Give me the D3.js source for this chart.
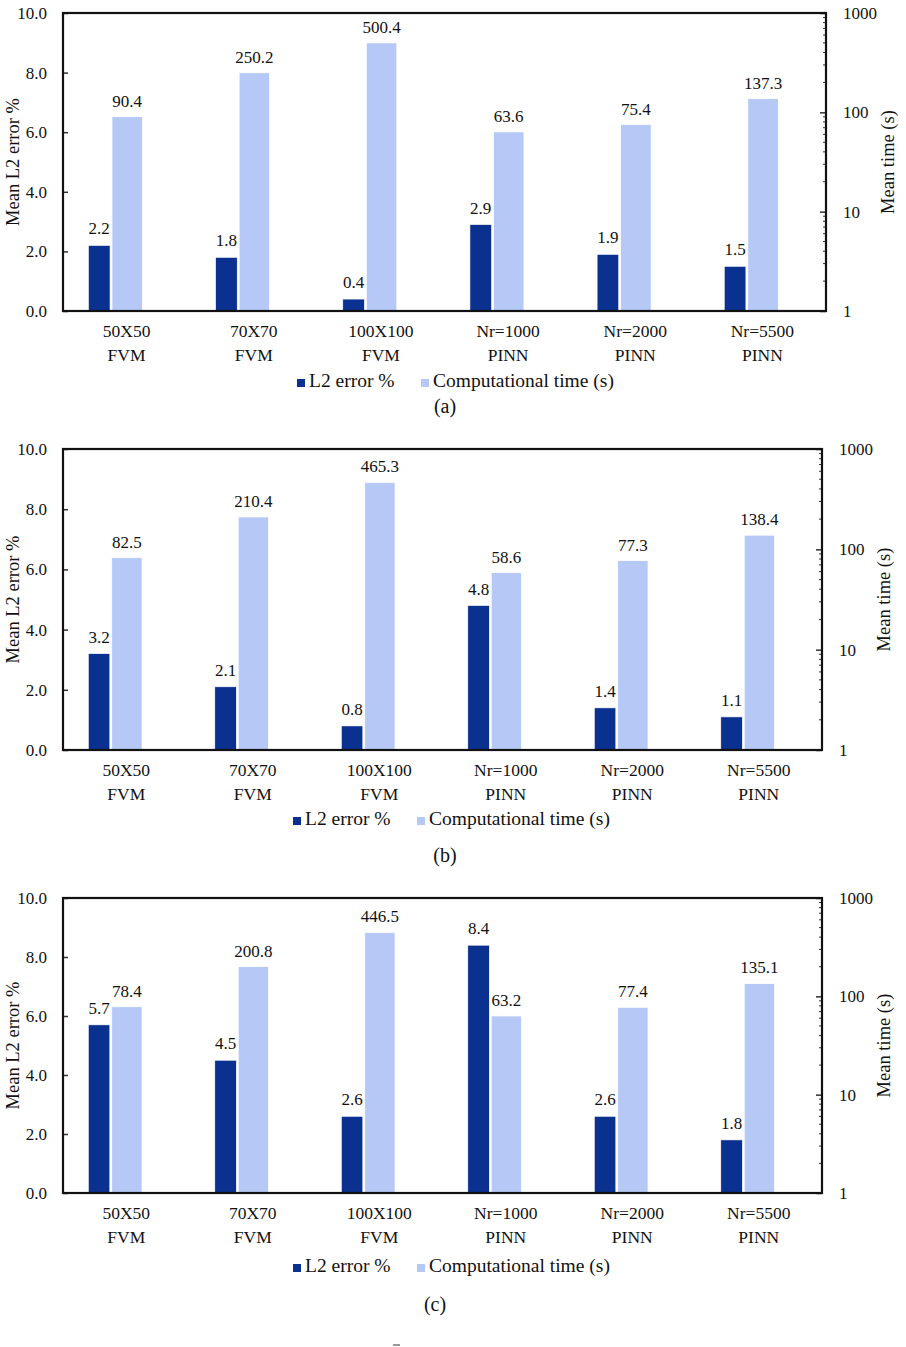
<!DOCTYPE html>
<html>
<head>
<meta charset="utf-8">
<script src="https://cdn.jsdelivr.net/npm/d3@7"></script>
<style>
  body { margin: 0; background: #fff; }
  svg text { font-family: "Liberation Serif", "DejaVu Serif", serif; fill: #111; }
</style>
</head>
<body>
<div id="chart"></div>
<script>
// categories shared by all three panels
const categories = ["50X50", "70X70", "100X100", "Nr=1000", "Nr=2000", "Nr=5500"];
const methods = ["FVM", "FVM", "FVM", "PINN", "PINN", "PINN"];

// panel (a)
const errorA = [2.2, 1.8, 0.4, 2.9, 1.9, 1.5];
const timeA = [90.4, 250.2, 500.4, 63.6, 75.4, 137.3];
// panel (b)
const errorB = [3.2, 2.1, 0.8, 4.8, 1.4, 1.1];
const timeB = [82.5, 210.4, 465.3, 58.6, 77.3, 138.4];
// panel (c)
const errorC = [5.7, 4.5, 2.6, 8.4, 2.6, 1.8];
const timeC = [78.4, 200.8, 446.5, 63.2, 77.4, 135.1];

const errorTicks = [0, 2, 4, 6, 8, 10];
const timeTicks = [1, 10, 100, 1000];
const legendLabels = ["L2 error %", "Computational time (s)"];

const darkBlue = "#0b3190";
const lightBlue = "#b5c8f6";

const svg = d3.select("#chart").append("svg")
    .attr("width", 906)
    .attr("height", 1347);

function drawPanel(p) {
    const g = svg.append("g");

    const x = d3.scaleBand().domain(categories).range([p.left, p.right]);
    const yErr = d3.scaleLinear().domain([0, 10]).range([p.bottom, p.top]);
    const yTime = d3.scaleLog().domain([1, 1000]).range([p.bottom, p.top]);
    const bw = x.bandwidth();
    const cx = d => x(d) + bw / 2;

    // light bars (time, log axis)
    g.selectAll(".time").data(p.time).enter().append("rect")
        .attr("x", (d, i) => cx(categories[i]) - 0.115 * bw)
        .attr("width", 0.24 * bw)
        .attr("y", d => yTime(d))
        .attr("height", d => p.bottom - yTime(d))
        .attr("fill", lightBlue)
        .attr("stroke", "#fff")
        .attr("stroke-width", 0.8);

    // dark bars (error)
    g.selectAll(".err").data(p.error).enter().append("rect")
        .attr("x", (d, i) => cx(categories[i]) - 0.30 * bw)
        .attr("width", 0.17 * bw)
        .attr("y", d => yErr(d))
        .attr("height", d => p.bottom - yErr(d))
        .attr("fill", darkBlue)
        .attr("stroke", "#fff")
        .attr("stroke-width", 0.6);

    // value labels
    g.selectAll(".errLab").data(p.error).enter().append("text")
        .attr("x", (d, i) => cx(categories[i]) - 0.215 * bw)
        .attr("y", d => yErr(d) - 11)
        .attr("text-anchor", "middle")
        .attr("font-size", 17)
        .text(d => d.toFixed(1));
    g.selectAll(".timeLab").data(p.time).enter().append("text")
        .attr("x", (d, i) => cx(categories[i]) + 0.005 * bw)
        .attr("y", d => yTime(d) - 10)
        .attr("text-anchor", "middle")
        .attr("font-size", 17)
        .text(d => d.toFixed(1));

    // left axis
    const left = g.append("g").attr("transform", `translate(${p.left},0)`)
        .call(d3.axisLeft(yErr).tickValues(errorTicks).tickSize(-5).tickPadding(16)
            .tickFormat(d => d.toFixed(1)));
    left.select(".domain").remove();
    left.selectAll("line").attr("stroke", "#333").attr("stroke-width", 1.5);
    left.selectAll("text").attr("font-size", 17).attr("font-family", "Liberation Serif");

    // right axis, log with minor ticks
    const minor = [];
    for (let dec = 1; dec < 1000; dec *= 10) {
        for (let k = 2; k <= 9; k++) minor.push(dec * k);
    }
    g.selectAll(".minor").data(minor).enter().append("line")
        .attr("x1", p.right).attr("x2", p.right - 3)
        .attr("y1", d => yTime(d)).attr("y2", d => yTime(d))
        .attr("stroke", "#333").attr("stroke-width", 1);
    const right = g.append("g").attr("transform", `translate(${p.right},0)`)
        .call(d3.axisRight(yTime).tickValues(timeTicks).tickSize(-6).tickPadding(17)
            .tickFormat(d3.format("d")));
    right.select(".domain").remove();
    right.selectAll("line").attr("stroke", "#333").attr("stroke-width", 1.5);
    right.selectAll("text").attr("font-size", 17).attr("font-family", "Liberation Serif");

    // frame
    g.append("rect")
        .attr("x", p.left).attr("y", p.top)
        .attr("width", p.right - p.left).attr("height", p.bottom - p.top)
        .attr("fill", "none").attr("stroke", "#111").attr("stroke-width", 2.2);

    // category labels (two lines)
    g.selectAll(".cat1").data(categories).enter().append("text")
        .attr("x", d => cx(d)).attr("y", p.bottom + 22)
        .attr("text-anchor", "middle").attr("dominant-baseline", "middle")
        .attr("font-size", 17.5).text(d => d);
    g.selectAll(".cat2").data(methods).enter().append("text")
        .attr("x", (d, i) => cx(categories[i])).attr("y", p.bottom + 46)
        .attr("text-anchor", "middle").attr("dominant-baseline", "middle")
        .attr("font-size", 17.5).text(d => d);

    // axis titles
    const midY = (p.top + p.bottom) / 2;
    g.append("text")
        .attr("transform", `translate(15,${midY}) rotate(-90)`)
        .attr("text-anchor", "middle").attr("dominant-baseline", "middle")
        .attr("font-size", 18.5).text("Mean L2 error %");
    g.append("text")
        .attr("transform", `translate(${p.right + 64},${midY}) rotate(-90)`)
        .attr("text-anchor", "middle").attr("dominant-baseline", "middle")
        .attr("font-size", 18.5).text("Mean time (s)");

    // legend
    const lx = [p.legendX, p.legendX + 124];
    [darkBlue, lightBlue].forEach((c, i) => {
        g.append("rect")
            .attr("x", lx[i]).attr("y", p.legendY - 4)
            .attr("width", 8).attr("height", 8).attr("fill", c);
        g.append("text")
            .attr("x", lx[i] + 12).attr("y", p.legendY)
            .attr("dominant-baseline", "middle")
            .attr("font-size", 19.5).text(legendLabels[i]);
    });

    // panel tag
    g.append("text")
        .attr("x", p.tagX).attr("y", p.tagY)
        .attr("text-anchor", "middle").attr("dominant-baseline", "middle")
        .attr("font-size", 20).text(p.tag);
}

drawPanel({ error: errorA, time: timeA, tag: "(a)",
    left: 63, right: 826, top: 13, bottom: 311, legendX: 297, legendY: 383, tagX: 445, tagY: 408 });
drawPanel({ error: errorB, time: timeB, tag: "(b)",
    left: 63, right: 822, top: 449, bottom: 750, legendX: 293, legendY: 821, tagX: 445, tagY: 857 });
drawPanel({ error: errorC, time: timeC, tag: "(c)",
    left: 63, right: 822, top: 898, bottom: 1193, legendX: 293, legendY: 1268, tagX: 435, tagY: 1306 });

// stray page mark at the bottom
svg.append("line").attr("x1", 393).attr("x2", 400).attr("y1", 1345).attr("y2", 1345)
    .attr("stroke", "#333").attr("stroke-width", 1);
</script>
</body>
</html>
